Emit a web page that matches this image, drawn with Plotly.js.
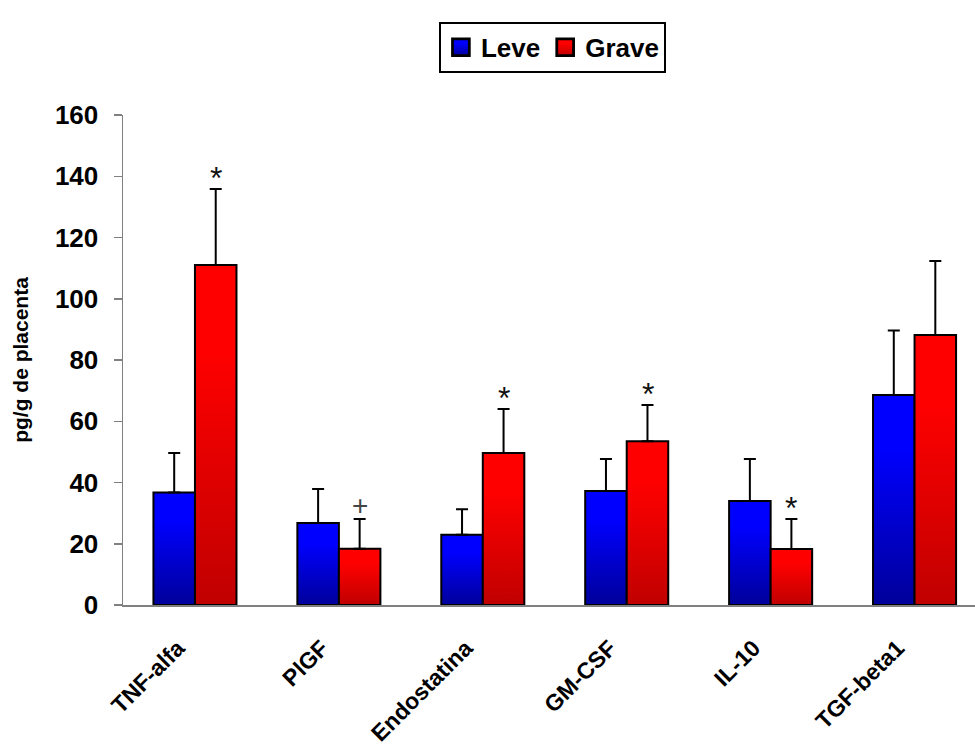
<!DOCTYPE html>
<html>
<head>
<meta charset="utf-8">
<script src="https://cdn.plot.ly/plotly-3.0.1.min.js"></script>
<style>html,body{margin:0;padding:0;background:#fff;}#chart{width:975px;height:747px;}</style>
</head>
<body>
<div id="chart"></div>
<script>
// ---- data ----
const categories = ["TNF-alfa", "PlGF", "Endostatina", "GM-CSF", "IL-10", "TGF-beta1"];
const leveValues = [36.7, 26.8, 22.9, 37.2, 34.0, 68.6];
const leveErrors = [12.9, 11.1, 8.4, 10.5, 13.7, 21.0];
const graveValues = [111.0, 18.4, 49.6, 53.5, 18.3, 88.2];
const graveErrors = [24.8, 9.7, 14.4, 11.8, 9.8, 24.1];
const leveMarks = ["", "", "", "", "", ""];
const graveMarks = ["*", "+", "*", "*", "*", ""];
const yTicks = [0, 20, 40, 60, 80, 100, 120, 140, 160];

const zeros = categories.map(() => 0);
const FONT = "Liberation Sans, Arial, sans-serif";

function barTrace(name, vals, errs, color) {
  return {
    type: "bar", name: name, x: categories, y: vals,
    marker: {color: color, line: {color: "#000", width: 2}},
    error_y: {type: "data", symmetric: false, array: errs, arrayminus: zeros,
              color: "#000", thickness: 2, width: 6, visible: true},
    hoverinfo: "x+y"
  };
}

const traces = [
  barTrace("Leve", leveValues, leveErrors, "#0000EE"),
  barTrace("Grave", graveValues, graveErrors, "#EE0000")
];

const annotations = [];
function addMarks(marks, vals, errs, shift) {
  marks.forEach((m, i) => {
    if (!m) return;
    const plus = m === "+";
    annotations.push({
      x: categories[i], y: vals[i] + errs[i], xref: "x", yref: "y",
      text: m, showarrow: false, xshift: shift, yanchor: "bottom",
      yshift: plus ? -4 : -9,
      font: {family: FONT, size: plus ? 28 : 32, color: plus ? "#444" : "#111"}
    });
  });
}
addMarks(leveMarks, leveValues, leveErrors, -20.8);
addMarks(graveMarks, graveValues, graveErrors, 20.8);

const layout = {
  width: 975, height: 747,
  margin: {l: 123, r: 0, t: 115, b: 142, pad: 0},
  paper_bgcolor: "#fff", plot_bgcolor: "#fff",
  barmode: "group", bargap: 0.423, bargroupgap: 0,
  showlegend: true,
  legend: {
    orientation: "h", x: 0.504, xanchor: "center", y: 1.19, yanchor: "top",
    xref: "paper", yref: "paper",
    bordercolor: "#000", borderwidth: 2, bgcolor: "#fff",
    font: {family: FONT, size: 26, color: "#000", weight: "bold"},
    itemclick: false, traceorder: "normal", itemwidth: 30
  },
  xaxis: {
    type: "category", range: [-0.5, 5.42], fixedrange: true,
    showline: true, linecolor: "#808080", linewidth: 1.5,
    ticks: "outside", tickson: "boundaries", ticklen: 7, tickcolor: "#808080", tickwidth: 1.5,
    tickangle: -45, ticklabelstandoff: 14,
    tickfont: {family: FONT, size: 23, color: "#000", weight: "bold"},
    showgrid: false, zeroline: false
  },
  yaxis: {
    range: [0, 160], fixedrange: true, tickvals: yTicks,
    showline: true, linecolor: "#808080", linewidth: 1.5,
    ticks: "outside", ticklen: 8, tickcolor: "#808080", tickwidth: 1.5,
    ticklabelstandoff: 10,
    tickfont: {family: FONT, size: 26, color: "#000", weight: "bold"},
    title: {text: "pg/g de placenta", standoff: 20,
            font: {family: FONT, size: 21, color: "#000", weight: "bold"}},
    showgrid: false, zeroline: false
  },
  annotations: annotations
};

const gd = document.getElementById("chart");
Plotly.newPlot(gd, traces, layout, {displayModeBar: false, staticPlot: true}).then(() => {
  const svg = gd.querySelector("svg.main-svg");
  const ns = "http://www.w3.org/2000/svg";
  let defs = svg.querySelector("defs");
  if (!defs) { defs = document.createElementNS(ns, "defs"); svg.insertBefore(defs, svg.firstChild); }
  function grad(id, top, bottom) {
    const g = document.createElementNS(ns, "linearGradient");
    g.setAttribute("id", id);
    g.setAttribute("x1", "0"); g.setAttribute("y1", "0");
    g.setAttribute("x2", "0"); g.setAttribute("y2", "1");
    [[0, top], [0.25, top], [1, bottom]].forEach(([o, c]) => {
      const s = document.createElementNS(ns, "stop");
      s.setAttribute("offset", o); s.setAttribute("stop-color", c);
      g.appendChild(s);
    });
    defs.appendChild(g);
  }
  grad("gradLeve", "#0000FF", "#00009A");
  grad("gradGrave", "#FF0000", "#C00000");
  const ids = ["gradLeve", "gradGrave"];
  gd.querySelectorAll(".barlayer .trace").forEach((t, i) => {
    t.querySelectorAll(".point path").forEach(p => { p.style.fill = "url(#" + ids[i] + ")"; });
  });
  gd.querySelectorAll(".legend .traces").forEach((t, i) => {
    t.querySelectorAll(".legendpoints path").forEach(p => {
      p.style.fill = "url(#" + ids[i] + ")";
      const tr = p.getAttribute("transform") || "";
      p.setAttribute("transform", tr + " scale(1.4)");
    });
  });
  // nudge the rotated category labels left and down, as in the reference
  gd.querySelectorAll(".xaxislayer-above .xtick").forEach(g => {
    g.setAttribute("transform", "translate(-17,5)");
  });
});
</script>
</body>
</html>
